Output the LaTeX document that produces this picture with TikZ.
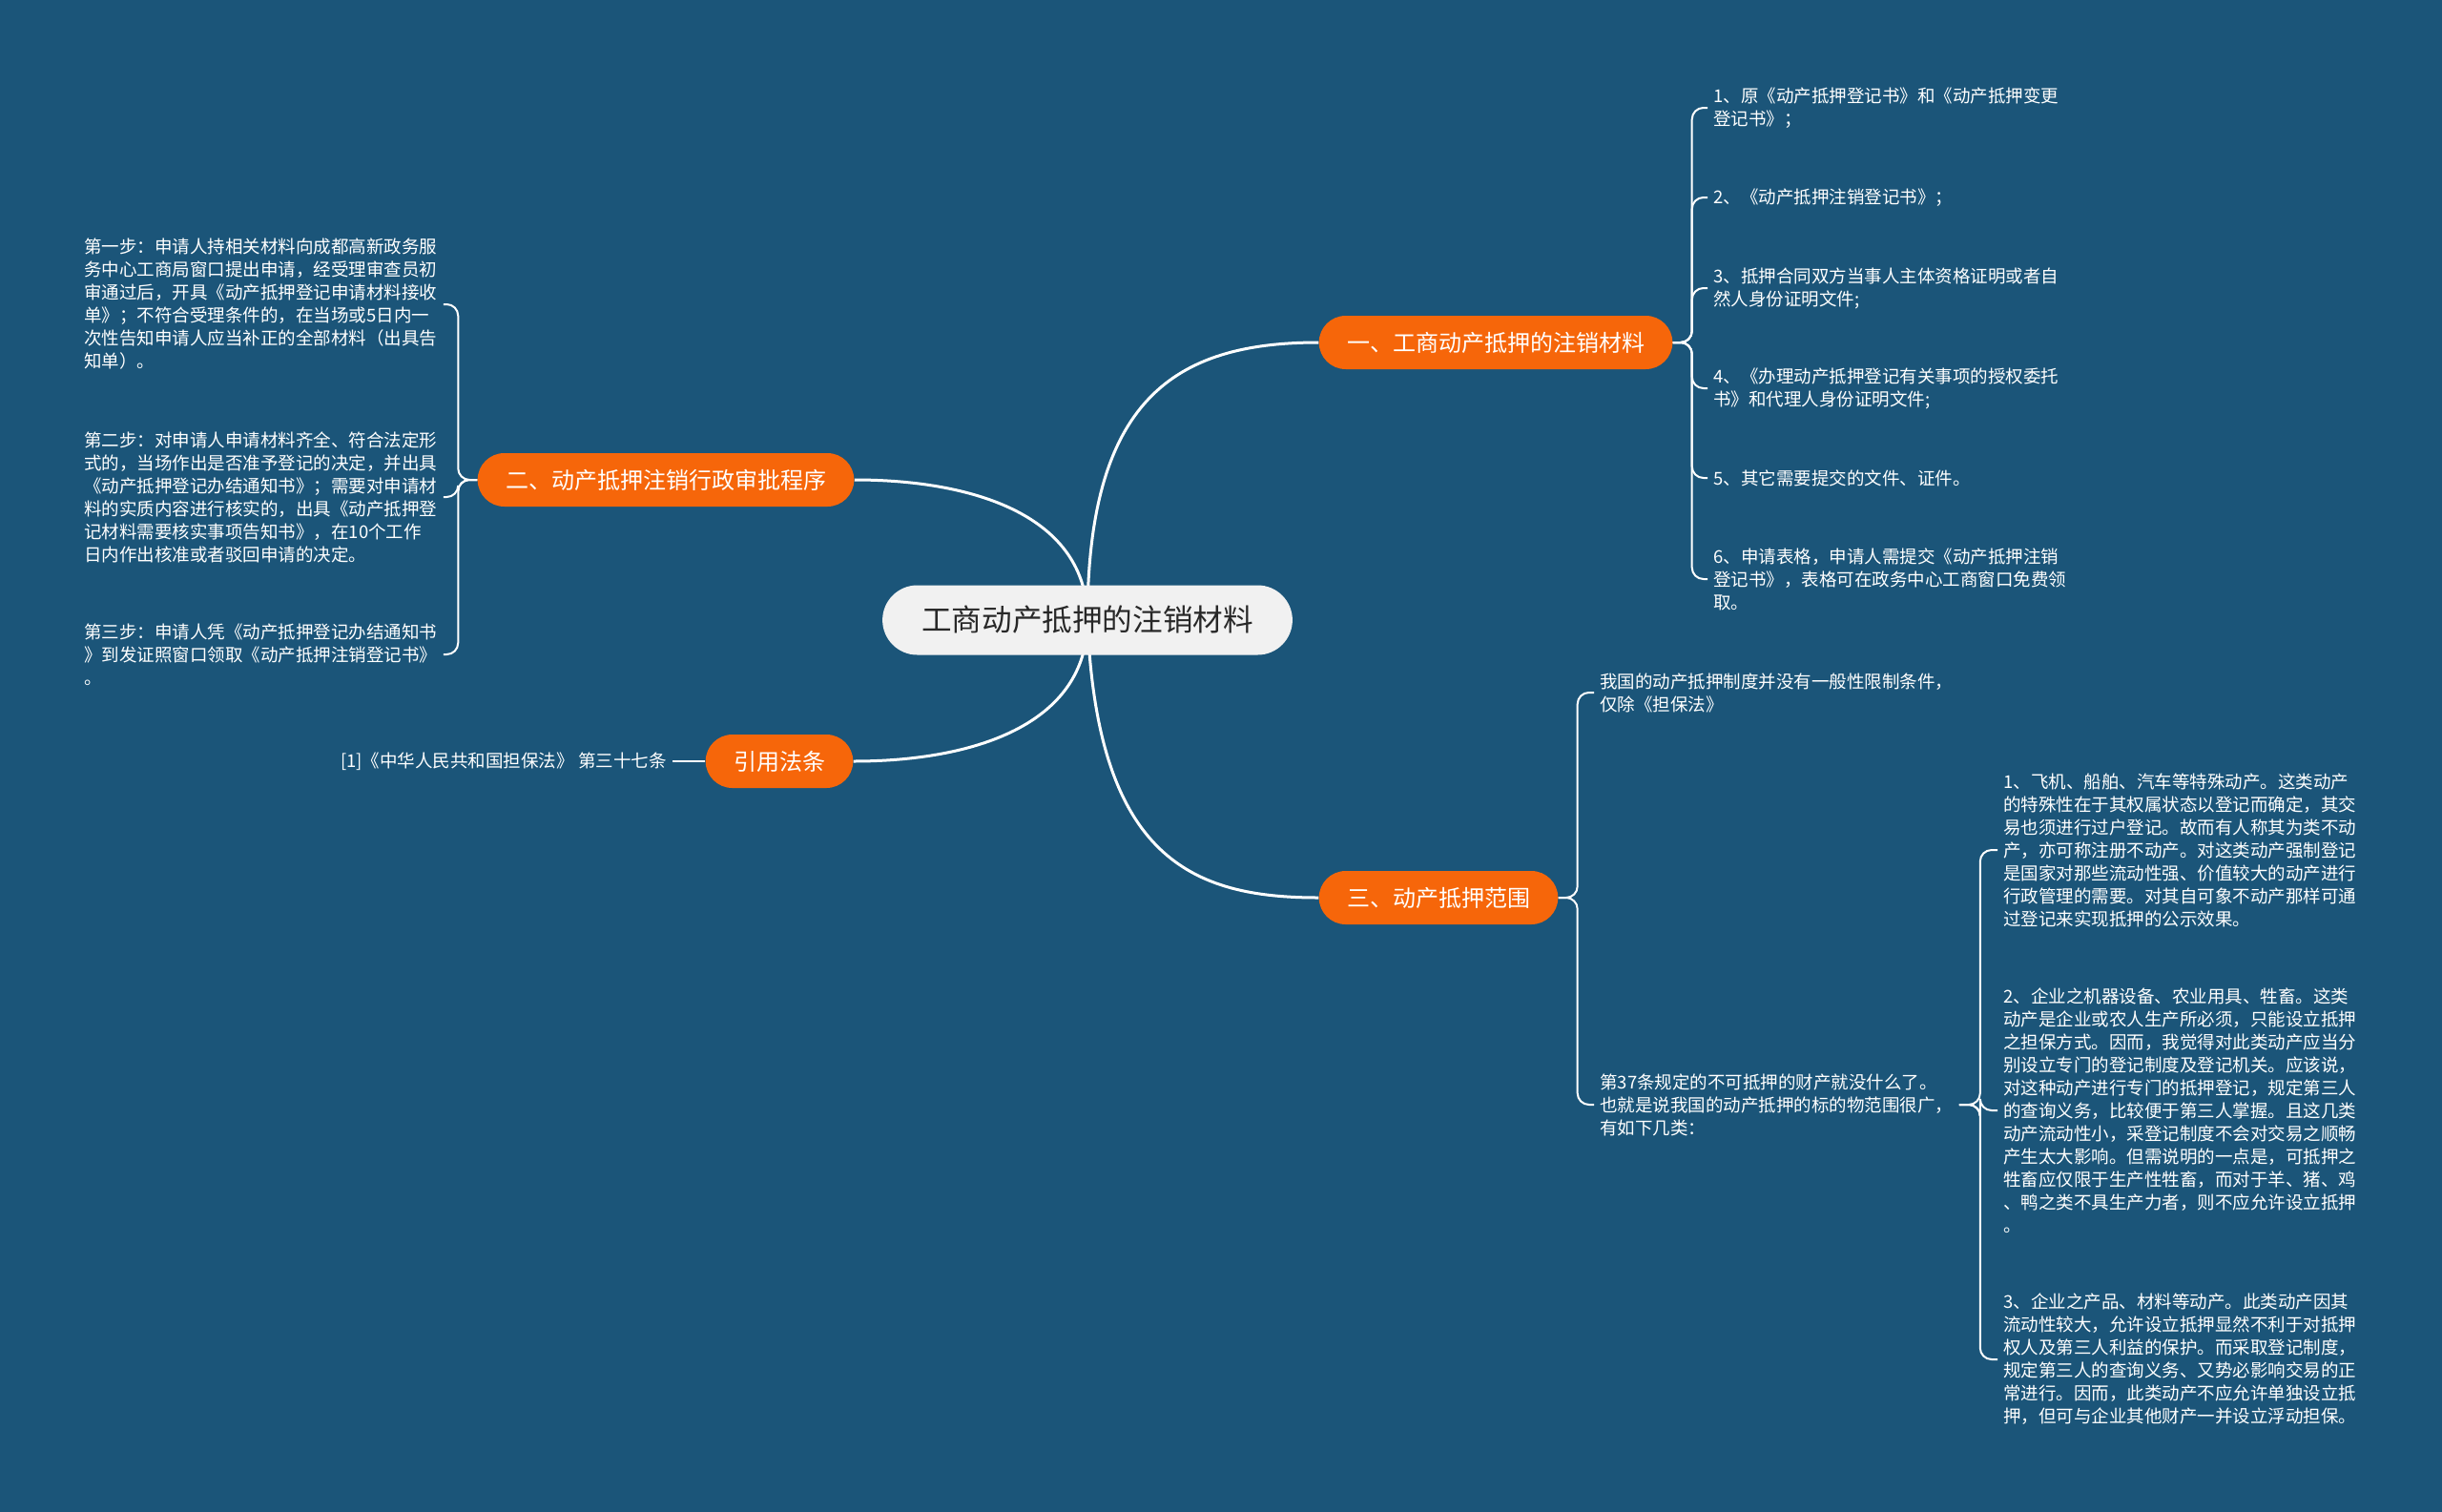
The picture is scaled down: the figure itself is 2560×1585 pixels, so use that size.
\documentclass[tikz,border=0pt]{standalone}
\usepackage{fontspec}
\setmainfont{Noto Sans CJK SC}
\usetikzlibrary{shapes.misc}
\definecolor{bgc}{RGB}{27,85,121}
\definecolor{orangec}{RGB}{246,102,10}
\definecolor{centerc}{RGB}{241,241,241}
\definecolor{darktext}{RGB}{40,40,40}
\pgfdeclarelayer{bglayer}
\pgfsetlayers{bglayer,main}
\tikzset{
  centernode/.style={rounded rectangle, fill=centerc, text=darktext, font=\fontsize{15.8}{18}\selectfont, minimum height=36.5pt, inner xsep=19pt, inner ysep=0pt},
  branch/.style={rounded rectangle, fill=orangec, text=white, font=\fontsize{12}{14}\selectfont, minimum height=28pt, inner xsep=13.5pt, inner ysep=0pt},
  leaf/.style={text=white, font=\fontsize{9.25}{12}\selectfont, align=left, inner xsep=3pt, inner ysep=1pt},
  mainlink/.style={draw=white, line width=1.5pt},
  link/.style={draw=white, line width=1pt, rounded corners=6pt}
}
\begin{document}
\begin{tikzpicture}[x=0.5pt,y=-0.5pt]
\useasboundingbox (0,0) rectangle (2560,1585);
% nodes
\node[centernode] (c) at (1140,650) {工商动产抵押的注销材料};
\node[branch] (b1) at (1568,359) {一、工商动产抵押的注销材料};
\node[branch] (b2) at (698,503) {二、动产抵押注销行政审批程序};
\node[branch] (b3) at (817,798) {引用法条};
\node[branch] (b4) at (1508,941) {三、动产抵押范围};
% branch 1 leaves
\node[leaf, anchor=west] (c1) at (1790,113) {1、原《动产抵押登记书》和《动产抵押变更\\登记书》；};
\node[leaf, anchor=west] (c2) at (1790,207) {2、《动产抵押注销登记书》；};
\node[leaf, anchor=west] (c3) at (1790,302) {3、抵押合同双方当事人主体资格证明或者自\\然人身份证明文件;};
\node[leaf, anchor=west] (c4) at (1790,407) {4、《办理动产抵押登记有关事项的授权委托\\书》和代理人身份证明文件;};
\node[leaf, anchor=west] (c5) at (1790,501) {5、其它需要提交的文件、证件。};
\node[leaf, anchor=west] (c6) at (1790,607) {6、申请表格，申请人需提交《动产抵押注销\\登记书》，表格可在政务中心工商窗口免费领\\取。};
% branch 2 leaves
\node[leaf, anchor=west] (s1) at (82,319) {第一步：申请人持相关材料向成都高新政务服\\务中心工商局窗口提出申请，经受理审查员初\\审通过后，开具《动产抵押登记申请材料接收\\单》；不符合受理条件的，在当场或5日内一\\次性告知申请人应当补正的全部材料（出具告\\知单）。};
\node[leaf, anchor=west] (s2) at (82,521) {第二步：对申请人申请材料齐全、符合法定形\\式的，当场作出是否准予登记的决定，并出具\\《动产抵押登记办结通知书》；需要对申请材\\料的实质内容进行核实的，出具《动产抵押登\\记材料需要核实事项告知书》，在10个工作\\日内作出核准或者驳回申请的决定。};
\node[leaf, anchor=west] (s3) at (82,686) {第三步：申请人凭《动产抵押登记办结通知书\\》到发证照窗口领取《动产抵押注销登记书》\\。};
% branch 3 leaf
\node[leaf, anchor=east] (r1) at (705,798) {[1]《中华人民共和国担保法》 第三十七条};
% branch 4 leaves
\node[leaf, anchor=west] (a1) at (1671,726) {我国的动产抵押制度并没有一般性限制条件，\\仅除《担保法》};
\node[leaf, anchor=west] (a2) at (1671,1158) {第37条规定的不可抵押的财产就没什么了。\\也就是说我国的动产抵押的标的物范围很广，\\有如下几类：};
\node[leaf, anchor=west] (g1) at (2094,891) {1、飞机、船舶、汽车等特殊动产。这类动产\\的特殊性在于其权属状态以登记而确定，其交\\易也须进行过户登记。故而有人称其为类不动\\产，亦可称注册不动产。对这类动产强制登记\\是国家对那些流动性强、价值较大的动产进行\\行政管理的需要。对其自可象不动产那样可通\\过登记来实现抵押的公示效果。};
\node[leaf, anchor=west] (g2) at (2094,1164) {2、企业之机器设备、农业用具、牲畜。这类\\动产是企业或农人生产所必须，只能设立抵押\\之担保方式。因而，我觉得对此类动产应当分\\别设立专门的登记制度及登记机关。应该说，\\对这种动产进行专门的抵押登记，规定第三人\\的查询义务，比较便于第三人掌握。且这几类\\动产流动性小，采登记制度不会对交易之顺畅\\产生太大影响。但需说明的一点是，可抵押之\\牲畜应仅限于生产性牲畜，而对于羊、猪、鸡\\、鸭之类不具生产力者，则不应允许设立抵押\\。};
\node[leaf, anchor=west] (g3) at (2094,1425) {3、企业之产品、材料等动产。此类动产因其\\流动性较大，允许设立抵押显然不利于对抵押\\权人及第三人利益的保护。而采取登记制度，\\规定第三人的查询义务、又势必影响交易的正\\常进行。因而，此类动产不应允许单独设立抵\\押，但可与企业其他财产一并设立浮动担保。};
% connectors
\begin{pgfonlayer}{bglayer}
\fill[bgc] (0,0) rectangle (2560,1585);
\draw[mainlink] (c.center) .. controls (1140,420) and (1230,359) .. (b1.west);
\draw[mainlink] (c.center) .. controls (1140,540) and (1020,503) .. (b2.east);
\draw[mainlink] (c.center) .. controls (1140,760) and (1020,798) .. (b3.east);
\draw[mainlink] (c.center) .. controls (1150,900) and (1250,941) .. (b4.west);
\foreach \n in {c1,c2,c3,c4,c5,c6} \draw[link] (b1.east) -- ++(20,0) |- (\n.west);
\foreach \n in {s1,s2,s3} \draw[link] (b2.west) -- ++(-20,0) |- (\n.east);
\draw[link] (b3.west) -- (r1.east);
\foreach \n in {a1,a2} \draw[link] (b4.east) -- ++(20,0) |- (\n.west);
\foreach \n in {g1,g2,g3} \draw[link] (a2.east) -- ++(22,0) |- (\n.west);
\end{pgfonlayer}
\end{tikzpicture}
\end{document}
